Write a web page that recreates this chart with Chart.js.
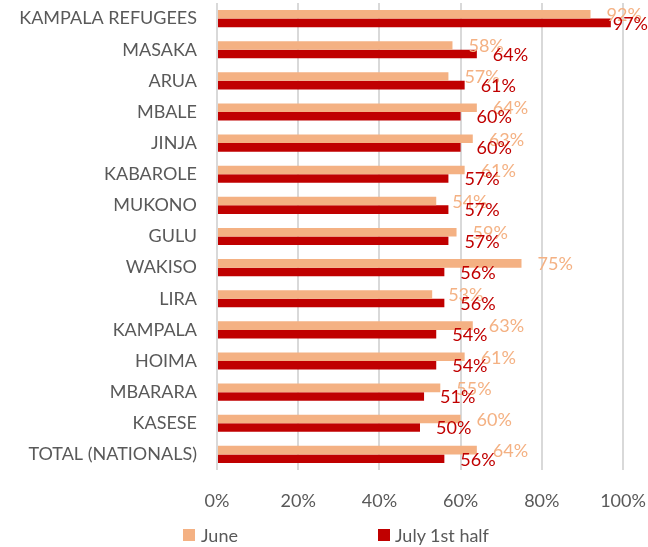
<!DOCTYPE html>
<html>
<head>
<meta charset="utf-8">
<script src="https://cdn.jsdelivr.net/npm/chart.js@4.4.0/dist/chart.umd.min.js"></script>
<style>
  html, body { margin: 0; padding: 0; background: #ffffff; }
  #wrap { position: relative; width: 648px; height: 547px; }
  #c { position: absolute; left: 0; top: 0; }
  .lg { position: absolute; font-family: Lato, "Liberation Sans", sans-serif; font-size: 18px; color: #595959; line-height: 18px; white-space: nowrap; }
  .sw { position: absolute; width: 12px; height: 12px; }
</style>
</head>
<body>
<div id="wrap">
  <canvas id="c" width="648" height="547"></canvas>
  <div class="sw" style="left:183px; top:529px; background:#F4B183;"></div>
  <div class="lg" style="left:201px; top:526px;">June</div>
  <div class="sw" style="left:378px; top:529px; background:#C00000;"></div>
  <div class="lg" style="left:395px; top:526px;">July 1st half</div>
</div>
<script>
const categories = ["KAMPALA REFUGEES", "MASAKA", "ARUA", "MBALE", "JINJA", "KABAROLE", "MUKONO", "GULU", "WAKISO", "LIRA", "KAMPALA", "HOIMA", "MBARARA", "KASESE", "TOTAL (NATIONALS)"];
const juneValues = [92, 58, 57, 64, 63, 61, 54, 59, 75, 53, 63, 61, 55, 60, 64];
const julyValues = [97, 64, 61, 60, 60, 57, 57, 57, 56, 56, 54, 54, 51, 50, 56];
const seriesNames = ["June", "July 1st half"];
const xTicks = [0, 20, 40, 60, 80, 100];

const FONT = 'Lato, "Liberation Sans", sans-serif';
const juneColor = '#F4B183';
const julyColor = '#C00000';
const labelColors = [juneColor, julyColor];

const dataLabels = {
  id: 'dataLabels',
  afterDatasetsDraw(chart) {
    const ctx = chart.ctx;
    ctx.save();
    ctx.font = '18px ' + FONT;
    ctx.textBaseline = 'middle';
    ctx.textAlign = 'left';
    chart.data.datasets.forEach((ds, i) => {
      const meta = chart.getDatasetMeta(i);
      meta.data.forEach((bar, j) => {
        const txt = ds.data[j] + '%';
        const w = ctx.measureText(txt).width;
        const x = Math.min(bar.x + 16, chart.width - w);
        ctx.fillStyle = labelColors[i];
        ctx.fillText(txt, x, bar.y + 1);
      });
    });
    ctx.restore();
  }
};

new Chart(document.getElementById('c'), {
  type: 'bar',
  data: {
    labels: categories,
    datasets: [
      { label: seriesNames[0], data: juneValues, backgroundColor: juneColor, categoryPercentage: 0.55, barPercentage: 1.0 },
      { label: seriesNames[1], data: julyValues, backgroundColor: julyColor, categoryPercentage: 0.55, barPercentage: 1.0 }
    ]
  },
  options: {
    indexAxis: 'y',
    responsive: false,
    animation: false,
    events: [],
    layout: { padding: { top: 3, right: 25, bottom: 0, left: 0 } },
    plugins: { legend: { display: false }, tooltip: { enabled: false } },
    scales: {
      x: {
        min: 0, max: 100,
        afterBuildTicks: (s) => { s.ticks = xTicks.map(v => ({ value: v })); },
        afterFit: (s) => { s.height = 77; s.paddingLeft = 0; s.paddingRight = 0; },
        grid: { color: '#D9D9D9', lineWidth: 2, drawTicks: false },
        border: { display: false },
        ticks: { padding: 20, color: '#595959', font: { family: FONT, size: 18 }, callback: (v) => v + '%' }
      },
      y: {
        afterFit: (s) => { s.width = 217; s.paddingTop = 0; s.paddingBottom = 0; },
        grid: { display: false, drawTicks: false },
        border: { display: false },
        ticks: { padding: 20, color: '#595959', font: { family: FONT, size: 18 } }
      }
    }
  },
  plugins: [dataLabels]
});
</script>
</body>
</html>
